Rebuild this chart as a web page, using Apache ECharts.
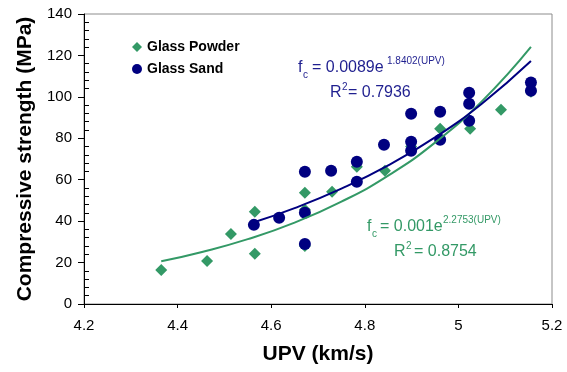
<!DOCTYPE html>
<html>
<head>
<meta charset="utf-8">
<script src="https://cdn.jsdelivr.net/npm/echarts@6/dist/echarts.min.js"></script>
<style>
  html, body { margin: 0; padding: 0; background: #fff; }
  #chart { width: 567px; height: 372px; }
</style>
</head>
<body>
<div id="chart"></div>
<script>
// UPV (km/s) and compressive strength (MPa)
var powderUpv = [4.365, 4.463, 4.514, 4.565, 4.565, 4.672, 4.672, 4.672, 4.730, 4.783, 4.843, 4.899, 4.961, 5.025, 5.091, 5.155];
var powderFc = [16.4, 20.8, 33.8, 44.5, 24.2, 53.7, 45.5, 28.0, 54.2, 66.2, 64.3, 76.0, 84.6, 84.6, 93.8, 102.5];

var sandUpv = [4.563, 4.617, 4.672, 4.672, 4.672, 4.728, 4.783, 4.783, 4.841, 4.899, 4.899, 4.899, 4.961, 4.961, 5.023, 5.023, 5.023, 5.155, 5.155];
var sandFc = [38.2, 41.6, 63.8, 44.0, 29.0, 64.3, 68.7, 59.0, 76.9, 91.9, 78.3, 74.0, 92.8, 79.3, 102.0, 96.7, 88.5, 106.9, 103.0];

// trend lines (fc = 0.001e^2.2753x and fc = 0.0089e^1.8402x)
var powderTrendUpv = [4.365, 4.45, 4.55, 4.65, 4.75, 4.85, 4.95, 5.05, 5.155];
var powderTrendFc = [20.6, 25.0, 31.3, 39.3, 49.4, 62.0, 77.9, 97.8, 124.1];
var sandTrendUpv = [4.563, 4.65, 4.75, 4.85, 4.95, 5.05, 5.155];
var sandTrendFc = [39.5, 46.3, 55.7, 66.9, 80.4, 96.7, 117.3];

var seriesNames = ['Glass Powder', 'Glass Sand'];

var GREEN = '#339966';
var NAVY = '#000080';
var BLUE_TXT = '#1f1f8f';
var FONT = '"Liberation Sans", Arial, sans-serif';

function pairs (xs, ys) {
    return xs.map(function (x, i) { return [x, ys[i]]; });
}

// one piece of text; y is the middle of the glyph box
function txt (x, y, s, size, color) {
    return {
        type: 'text', x: x, y: y, z: 100,
        style: { text: s, fill: color, font: size + 'px ' + FONT, verticalAlign: 'middle' }
    };
}

var chart = echarts.init(document.getElementById('chart'), null, { renderer: 'canvas' });

chart.setOption({
    animation: false,
    backgroundColor: '#fff',
    textStyle: { fontFamily: FONT },
    grid: {
        left: 84, right: 15, top: 14, bottom: 68,
        show: true, borderColor: '#8c8c8c', borderWidth: 1,
        outerBoundsMode: 'none'
    },
    legend: {
        data: [
            { name: seriesNames[0], icon: 'diamond' },
            { name: seriesNames[1], icon: 'circle' }
        ],
        orient: 'vertical',
        left: 127, top: 35,
        itemWidth: 10, itemHeight: 10, itemGap: 8,
        textStyle: { fontSize: 14, fontWeight: 'bold', color: '#000', fontFamily: FONT }
    },
    xAxis: {
        type: 'value', min: 4.2, max: 5.2, interval: 0.2,
        name: 'UPV (km/s)', nameLocation: 'middle', nameGap: 40,
        nameTextStyle: { fontSize: 21, fontWeight: 'bold', color: '#000' },
        axisLine: { lineStyle: { color: '#000', width: 1 } },
        axisTick: { show: true, length: 4, lineStyle: { color: '#000' } },
        axisLabel: { fontSize: 15, color: '#000', margin: 14 },
        splitLine: { show: false }
    },
    yAxis: [
        {
            type: 'value', min: 0, max: 140, interval: 20,
            name: 'Compressive strength (MPa)', nameLocation: 'middle', nameGap: 46,
            nameTextStyle: { fontSize: 21, fontWeight: 'bold', color: '#000' },
            axisLine: { show: true, lineStyle: { color: '#000', width: 1 } },
            axisTick: { show: true, length: 6, lineStyle: { color: '#000' } },
            axisLabel: { fontSize: 15, color: '#000', margin: 12 },
            splitLine: { show: false }
        },
        {
            // minor ticks, drawn on the inner side
            type: 'value', min: 0, max: 140, interval: 20, position: 'left',
            axisLine: { show: false },
            axisTick: { show: false, inside: true },
            minorTick: { show: true, splitNumber: 5, length: 5, lineStyle: { color: '#000' } },
            axisLabel: { show: false },
            splitLine: { show: false }
        }
    ],
    series: [
        {
            name: seriesNames[0], type: 'scatter', symbol: 'diamond', symbolSize: 12,
            itemStyle: { color: GREEN, opacity: 1 }, z: 2,
            data: pairs(powderUpv, powderFc)
        },
        {
            name: seriesNames[1], type: 'scatter', symbol: 'circle', symbolSize: 12,
            itemStyle: { color: NAVY, opacity: 1 }, z: 3,
            data: pairs(sandUpv, sandFc)
        },
        {
            name: 'powder trend', type: 'line', smooth: true, showSymbol: false, z: 4,
            lineStyle: { color: GREEN, width: 2 },
            data: pairs(powderTrendUpv, powderTrendFc)
        },
        {
            name: 'sand trend', type: 'line', smooth: true, showSymbol: false, z: 5,
            lineStyle: { color: NAVY, width: 2 },
            data: pairs(sandTrendUpv, sandTrendFc)
        }
    ],
    graphic: [
        // Glass Sand fit
        txt(298, 68, 'f', 16, BLUE_TXT),
        txt(303, 75, 'c', 10, BLUE_TXT),
        txt(312, 68, '= 0.0089e', 16, BLUE_TXT),
        txt(387, 61, '1.8402(UPV)', 10, BLUE_TXT),
        txt(330, 93, 'R', 16, BLUE_TXT),
        txt(342, 87, '2', 10, BLUE_TXT),
        txt(348, 93, '= 0.7936', 16, BLUE_TXT),
        // Glass Powder fit
        txt(367, 227, 'f', 16, GREEN),
        txt(372, 234, 'c', 10, GREEN),
        txt(380, 227, '= 0.001e', 16, GREEN),
        txt(443, 220, '2.2753(UPV)', 10, GREEN),
        txt(394, 252, 'R', 16, GREEN),
        txt(406, 246, '2', 10, GREEN),
        txt(414, 252, '= 0.8754', 16, GREEN)
    ]
});
</script>
</body>
</html>
